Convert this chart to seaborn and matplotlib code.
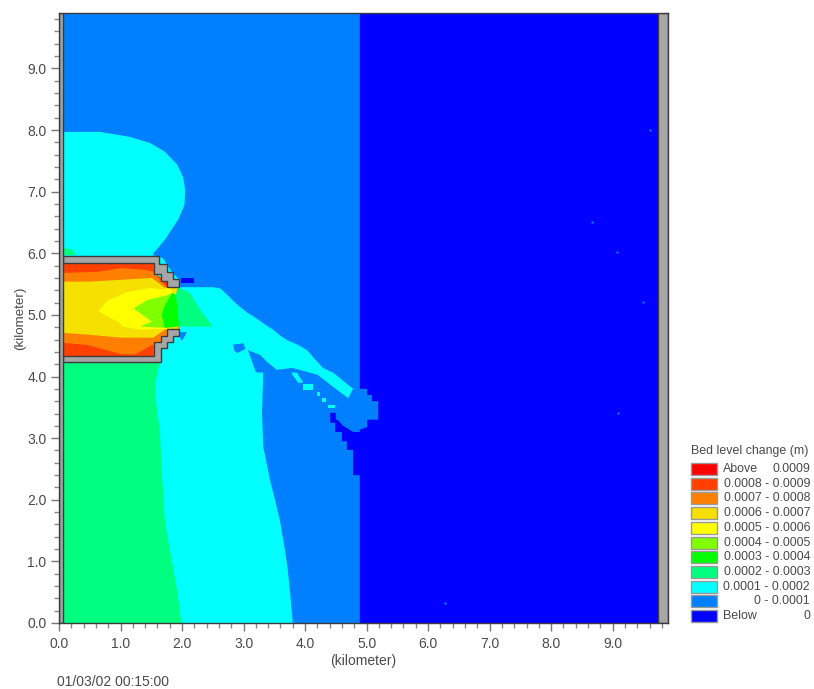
#!/usr/bin/env python3

import matplotlib

matplotlib.use("Agg")

import matplotlib.pyplot as plt
import numpy as np
import pandas as pd
import seaborn as sns
from matplotlib.patches import Rectangle

legend_title = "Bed level change (m)"
legend_left = ["Above", "0.0008 - 0.0009", "0.0007 - 0.0008", "0.0006 - 0.0007", "0.0005 - 0.0006",
               "0.0004 - 0.0005", "0.0003 - 0.0004", "0.0002 - 0.0003", "0.0001 - 0.0002", "0 - 0.0001", "Below"]
legend_right = ["0.0009", "", "", "", "", "", "", "", "", "", "0"]
colors = ["#ff0000", "#ff4000", "#ff8000", "#f5e000", "#ffff00", "#80ff00",
          "#00ff00", "#00ff80", "#00ffff", "#0080ff", "#0000ff"]
timestamp = "01/03/02 00:15:00"

# band outlines, in km
deep_blue = [(4.89, 9.9), (9.9, 9.9), (9.9, 0), (4.89, 0), (4.89, 2.4), (4.78, 2.4), (4.78, 2.81), (4.68, 2.81),
             (4.68, 2.95), (4.6, 2.95), (4.6, 3.1), (4.49, 3.1), (4.49, 3.25), (4.41, 3.25), (4.41, 3.41),
             (4.5, 3.41), (4.5, 3.33), (4.62, 3.2), (4.78, 3.1), (4.89, 3.1)]
blue_blob = [(4.78, 3.8), (5.01, 3.8), (5.01, 3.7), (5.09, 3.7), (5.09, 3.6), (5.19, 3.6), (5.19, 3.3), (5.01, 3.3),
             (5.01, 3.18), (4.78, 3.1), (4.78, 3.2), (4.62, 3.2), (4.62, 3.3), (4.5, 3.3), (4.5, 3.41), (4.7, 3.65)]
cyan_main = [(0.06, 7.97), (0.67, 7.97), (1.15, 7.89), (1.48, 7.79), (1.72, 7.65), (1.92, 7.44), (2.02, 7.23),
             (2.05, 7.03), (2.04, 6.79), (1.94, 6.55), (1.72, 6.22), (1.56, 6.03),
             (1.53, 6.0), (1.53, 5.97), (1.69, 5.92), (1.78, 5.78), (1.85, 5.68), (1.95, 5.58), (1.95, 5.45),
             (2.5, 5.45), (2.62, 5.43), (2.73, 5.33), (2.83, 5.23), (2.94, 5.13), (3.07, 5.03), (3.2, 4.95),
             (3.34, 4.85), (3.48, 4.76), (3.6, 4.66), (3.71, 4.59), (3.87, 4.52), (4.03, 4.43), (4.16, 4.28),
             (4.29, 4.14), (4.46, 4.06), (4.62, 3.93), (4.78, 3.8), (4.7, 3.65), (4.46, 3.83), (4.2, 4.03),
             (3.79, 4.14), (3.54, 4.11), (3.38, 4.24), (3.27, 4.35), (3.07, 4.43), (3.11, 4.32), (3.2, 4.07),
             (3.32, 4.06), (3.3, 3.41), (3.32, 2.86), (3.43, 2.32), (3.52, 1.96), (3.59, 1.67), (3.67, 1.2),
             (3.72, 0.86), (3.76, 0.45), (3.8, 0), (0.06, 0)]
cyan_dots = [
    [(3.79, 4.07), (3.87, 4.06), (3.97, 3.9), (3.89, 3.9), (3.79, 4.03)],
    [(3.97, 3.88), (4.13, 3.88), (4.13, 3.78), (3.97, 3.78)],
    [(4.2, 3.75), (4.24, 3.75), (4.24, 3.68), (4.2, 3.68)],
    [(4.28, 3.65), (4.34, 3.65), (4.34, 3.59), (4.28, 3.59)],
    [(4.37, 3.54), (4.49, 3.54), (4.49, 3.49), (4.37, 3.49)],
]
blue_patches = [
    [(2.83, 4.52), (3.0, 4.54), (3.03, 4.45), (2.9, 4.38), (2.85, 4.42)],
    [(1.97, 4.72), (2.08, 4.72), (2.0, 4.58), (1.97, 4.62)],
]
deep_patch = [(1.98, 5.6), (2.2, 5.6), (2.2, 5.52), (1.98, 5.52)]
green_south = [(0.06, 4.24), (1.64, 4.24), (1.56, 3.86), (1.59, 3.46), (1.64, 3.13), (1.67, 2.48), (1.72, 1.67),
               (1.8, 1.19), (1.92, 0.54), (1.99, 0), (0.06, 0)]
green_north = [(0.06, 6.09), (0.21, 6.06), (0.28, 5.97), (0.06, 5.97)]

basin = [(0.06, 5.84), (1.54, 5.84), (1.54, 5.67), (1.95, 5.45), (1.95, 4.77), (1.54, 4.56), (1.54, 4.33), (0.06, 4.33)]
orange = [(0.05, 5.68), (0.63, 5.7), (1.02, 5.76), (1.4, 5.73), (1.53, 5.7), (1.66, 5.55), (1.76, 5.45), (1.95, 5.45),
          (1.95, 4.77), (1.76, 4.66), (1.66, 4.56), (1.54, 4.51), (1.51, 4.51), (1.24, 4.36), (1.02, 4.36),
          (0.47, 4.51), (0.05, 4.55)]
gold = [(0.05, 5.54), (0.47, 5.54), (1.02, 5.57), (1.51, 5.6), (1.72, 5.44), (1.93, 5.45), (1.93, 4.77),
        (1.72, 4.76), (1.53, 4.63), (1.02, 4.63), (0.47, 4.68), (0.05, 4.71)]
yellow = [(0.65, 5.08), (0.8, 5.24), (1.11, 5.37), (1.48, 5.44), (1.69, 5.41), (1.79, 5.45), (1.85, 5.36),
          (1.76, 4.77), (1.59, 4.77), (1.32, 4.76), (1.04, 4.81), (0.99, 4.87), (0.65, 5.05)]
lime = [(1.22, 5.11), (1.43, 5.24), (1.76, 5.32), (1.84, 5.36), (1.89, 5.32), (1.72, 4.79), (1.32, 4.81),
        (1.51, 4.89), (1.22, 5.1)]
green = [(1.84, 5.36), (1.9, 5.32), (1.95, 4.84), (1.93, 4.81), (1.72, 4.79), (1.67, 5.0), (1.71, 5.13)]
spring = [(1.93, 5.45), (2.13, 5.36), (2.26, 5.13), (2.5, 4.81), (1.93, 4.81), (1.9, 5.32)]

wall_north = [(0.06, 5.96), (1.63, 5.96), (1.63, 5.83), (1.76, 5.83), (1.76, 5.7), (1.85, 5.7), (1.85, 5.58),
              (1.95, 5.58), (1.95, 5.45), (1.76, 5.45), (1.76, 5.55), (1.66, 5.55), (1.66, 5.67), (1.54, 5.67),
              (1.54, 5.84), (0.06, 5.84)]
wall_south = [(0.06, 4.33), (1.54, 4.33), (1.54, 4.56), (1.66, 4.56), (1.66, 4.66), (1.76, 4.66), (1.76, 4.77),
              (1.95, 4.77), (1.95, 4.66), (1.85, 4.66), (1.85, 4.56), (1.76, 4.56), (1.76, 4.46), (1.66, 4.46),
              (1.66, 4.24), (0.06, 4.24)]

# isolated specks in the deep blue part
speck_x = [9.61, 8.67, 9.07, 9.5, 9.09, 6.28]
speck_y = [8.0, 6.51, 6.02, 5.21, 3.41, 0.32]


def fill(ax, outline, color, **kwargs):
    (xs, ys) = zip(*outline)
    ax.fill(xs, ys, color=color, lw=0, **kwargs)


def main():
    sns.set_style("ticks")
    plt.rcParams["font.family"] = ["Liberation Sans", "DejaVu Sans"]

    text_color = "#4a4a4a"
    gray = "#a6a6a6"
    dark = "#3c3c3c"

    (width, height) = (814, 689)
    fig = plt.figure(figsize=(width / 100, height / 100), dpi=100)
    ax = fig.add_axes([59 / width, 1 - 623 / height, 609 / width, 610 / height])
    ax.set_xlim(0, 9.9)
    ax.set_ylim(0, 9.9)
    ax.set_facecolor(colors[9])

    fill(ax, deep_blue, colors[10])
    fill(ax, blue_blob, colors[9])
    fill(ax, cyan_main, colors[8])
    for dot in cyan_dots:
        fill(ax, dot, colors[8])
    for patch in blue_patches:
        fill(ax, patch, colors[9])
    fill(ax, deep_patch, colors[10])
    fill(ax, green_south, colors[7])
    fill(ax, green_north, colors[7])

    fill(ax, basin, colors[1])
    fill(ax, orange, colors[2])
    fill(ax, gold, colors[3])
    fill(ax, yellow, colors[4])
    fill(ax, spring, colors[7])
    fill(ax, lime, colors[5])
    fill(ax, green, colors[6])

    specks = pd.DataFrame({"x": speck_x, "y": speck_y})
    sns.scatterplot(data=specks, x="x", y="y", s=3, color=colors[9], linewidth=0, ax=ax)
    ax.set_xlabel("")
    ax.set_ylabel("")

    for wall in [wall_north, wall_south]:
        ax.fill(*zip(*wall), facecolor=gray, edgecolor=dark, lw=1, joinstyle="miter", zorder=4)
    ax.add_patch(Rectangle((0, 0), 0.065, 9.9, facecolor=gray, edgecolor=dark, lw=1, zorder=5))
    ax.add_patch(Rectangle((9.74, 0), 0.16, 9.9, facecolor=gray, edgecolor=dark, lw=1, zorder=5))

    major = np.arange(0, 10)
    labels = [f"{value:.1f}" for value in major]
    minor = np.arange(0, 9.9, 0.2)
    for axis in [ax.xaxis, ax.yaxis]:
        axis.set_ticks(major, labels)
        axis.set_ticks(minor, minor=True)
    ax.tick_params(which="major", length=6, width=1, color="#777777", labelcolor=text_color,
                   labelsize=10, pad=3)
    ax.tick_params(axis="x", which="major", pad=4)
    ax.tick_params(which="minor", length=3.6, width=1, color="#888888")
    for spine in ax.spines.values():
        spine.set_color(dark)
        spine.set_linewidth(1)
        spine.set_zorder(6)

    ax.set_xlabel("(kilometer)", fontsize=10, color=text_color, labelpad=2)
    ax.set_ylabel("(kilometer)", fontsize=9.6, color=text_color, labelpad=1)
    fig.text(57 / width, 1 - 682 / height, timestamp, fontsize=10, color=text_color, va="center")

    # legend panel in picture pixels
    leg = fig.add_axes([0, 0, 1, 1], facecolor="none")
    leg.set_xlim(0, width)
    leg.set_ylim(height, 0)
    leg.axis("off")
    leg.text(691, 451, legend_title, fontsize=8.9, color=text_color, va="center")
    for i, (left, right, color) in enumerate(zip(legend_left, legend_right, colors)):
        y = 463 + i * 14.7
        leg.add_patch(Rectangle((691, y), 26, 12, facecolor=color, edgecolor="#999999", lw=1))
        if right:
            leg.text(723, y + 6, left, fontsize=8.9, color=text_color, va="center")
            leg.text(810, y + 6, right, fontsize=8.9, color=text_color, va="center", ha="right")
        else:
            leg.text(810, y + 6, left, fontsize=8.9, color=text_color, va="center", ha="right")

    fig.savefig("out.png", dpi=100)
    plt.close(fig)


if __name__ == "__main__":
    main()
